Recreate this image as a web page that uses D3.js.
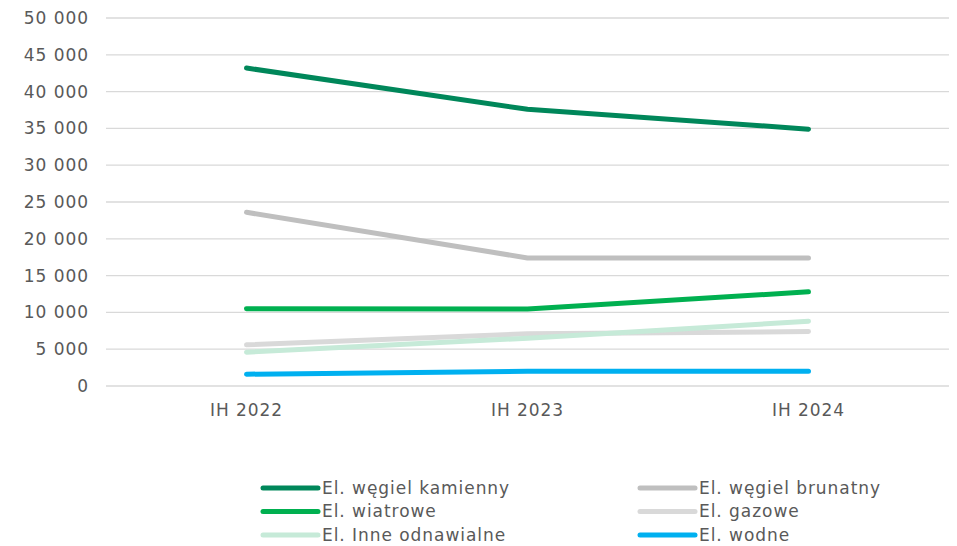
<!DOCTYPE html>
<html>
<head>
<meta charset="utf-8">
<script src="https://cdn.jsdelivr.net/npm/d3@7"></script>
<style>
  body { margin: 0; background: #fff; }
  svg text { font-family: "DejaVu Sans", sans-serif; fill: #595959; letter-spacing: 0.95px; font-size: 17px; }
</style>
</head>
<body>
<div id="chart"></div>
<script>
const periods = ["IH 2022", "IH 2023", "IH 2024"];
const seriesNames = ["El. węgiel kamienny", "El. węgiel brunatny", "El. wiatrowe", "El. gazowe", "El. Inne odnawialne", "El. wodne"];
const kamienny = [43200, 37600, 34900];
const brunatny = [23600, 17400, 17400];
const wiatrowe = [10500, 10450, 12800];
const gazowe = [5600, 7100, 7400];
const inne = [4600, 6500, 8800];
const wodne = [1600, 2000, 2000];
const yTicks = [0, 5000, 10000, 15000, 20000, 25000, 30000, 35000, 40000, 45000, 50000];
const colors = ["#00875A", "#BFBFBF", "#00B050", "#D9D9D9", "#C6EAD8", "#00B0F0"];

const values = [kamienny, brunatny, wiatrowe, gazowe, inne, wodne];
// draw order: light lines under the darker ones
const drawOrder = [3, 4, 5, 2, 1, 0];

const W = 957, H = 546;
const svg = d3.select("#chart").append("svg")
    .attr("width", W)
    .attr("height", H);

const x = d3.scaleBand().domain(periods).range([106, 949]);
const y = d3.scaleLinear().domain([0, 50000]).range([386, 18]);

const fmt = v => d3.format(",")(v).replace(/,/g, " ");

// grid + y labels
svg.append("g")
    .selectAll("line")
    .data(yTicks)
    .join("line")
    .attr("x1", 106).attr("x2", 949)
    .attr("y1", d => y(d)).attr("y2", d => y(d))
    .attr("stroke", "#D9D9D9")
    .attr("stroke-width", 1.3);

svg.append("g")
    .selectAll("text")
    .data(yTicks)
    .join("text")
    .attr("x", 89)
    .attr("y", d => y(d))
    .attr("dy", "0.35em")
    .attr("text-anchor", "end")
    .text(fmt);

svg.append("g")
    .selectAll("text")
    .data(periods)
    .join("text")
    .attr("x", d => x(d) + x.bandwidth() / 2)
    .attr("y", 410)
    .attr("dy", "0.35em")
    .attr("text-anchor", "middle")
    .text(d => d);

const line = d3.line()
    .x((d, i) => x(periods[i]) + x.bandwidth() / 2)
    .y(d => y(d));

svg.append("g")
    .selectAll("path")
    .data(drawOrder)
    .join("path")
    .attr("d", i => line(values[i]))
    .attr("fill", "none")
    .attr("stroke", i => colors[i])
    .attr("stroke-width", 5)
    .attr("stroke-linecap", "round")
    .attr("stroke-linejoin", "round");

// legend, two columns
const legend = svg.append("g")
    .selectAll("g")
    .data(seriesNames)
    .join("g")
    .attr("transform", (d, i) => `translate(${i % 2 ? 640 : 263},${488 + Math.floor(i / 2) * 23.5})`);
legend.append("line")
    .attr("x1", 0).attr("x2", 55)
    .attr("stroke", (d, i) => colors[i])
    .attr("stroke-width", 5)
    .attr("stroke-linecap", "round");
legend.append("text")
    .attr("x", 59)
    .attr("dy", "0.35em")
    .text(d => d);
</script>
</body>
</html>
